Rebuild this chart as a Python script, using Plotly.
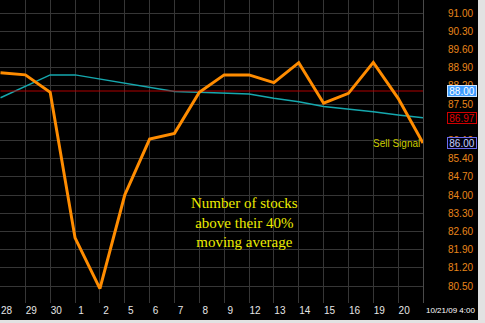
import plotly.graph_objects as go

# ---- data ----
categories = ["28", "29", "30", "1", "2", "5", "6", "7", "8", "9",
              "12", "13", "14", "15", "16", "19", "20", "21"]
stocks_above_ma = [88.70, 88.62, 87.95, 82.35, 80.40, 84.00, 86.15, 86.37, 87.95, 88.62,
                   88.62, 88.32, 89.09, 87.53, 87.91, 89.10, 87.72, 86.00]
moving_avg = [87.74, 88.18, 88.62, 88.62, 88.46, 88.30, 88.14, 87.98, 87.95, 87.92,
              87.88, 87.72, 87.59, 87.40, 87.31, 87.20, 87.08, 86.97]
signal_level = 88.00
x_tick_labels = ["28", "29", "30", "1", "2", "5", "6", "7", "8", "9",
                 "12", "13", "14", "15", "16", "19", "20", ""]
y_tick_values = [80.5, 81.2, 81.9, 82.6, 83.3, 84.0, 84.7, 85.4, 86.1, 86.8,
                 87.5, 88.2, 88.9, 89.6, 90.3, 91.0]
y_tick_labels = ["80.50", "81.20", "81.90", "82.60", "83.30", "84.00", "84.70", "85.40",
                 "86.10", "", "87.50", "88.20", "88.90", "89.60", "90.30", "91.00"]
date_label = "10/21/09 4:00"

xs = list(range(len(categories)))

fig = go.Figure()
fig.add_trace(go.Scatter(x=xs, y=moving_avg, mode="lines",
                         line=dict(color="#15a8ae", width=1.5), showlegend=False))
fig.add_trace(go.Scatter(x=xs, y=[signal_level] * len(xs), mode="lines",
                         line=dict(color="#b00000", width=1), showlegend=False))
fig.add_trace(go.Scatter(x=xs, y=stocks_above_ma, mode="lines",
                         line=dict(color="#ff8c00", width=3), showlegend=False))

font_ui = "Liberation Sans, Arial, sans-serif"

fig.update_layout(
    width=485, height=323,
    margin=dict(l=0, r=62, t=0, b=20),
    paper_bgcolor="#e2e2e2",
    plot_bgcolor="#000000",
    shapes=[dict(type="rect", xref="paper", yref="paper",
                 x0=-0.01, x1=478 / 423, y0=(303 - 320) / 303, y1=1.01,
                 fillcolor="#000000", line=dict(width=0), layer="below")],
    xaxis=dict(range=[-0.02, 17], tickvals=xs, ticktext=x_tick_labels,
               showgrid=True, gridcolor="#363636", gridwidth=1,
               zeroline=False, showline=False, ticks="",
               tickfont=dict(color="#e6e6e6", size=10, family=font_ui),
               ticklabelshift=6),
    yaxis=dict(side="right", range=[79.846, 91.5], tickvals=y_tick_values,
               ticktext=y_tick_labels, showgrid=True, gridcolor="#363636",
               gridwidth=1, zeroline=False, showline=True, linecolor="#4a4a4a",
               linewidth=1, ticks="",
               tickfont=dict(color="#e8861a", size=10, family=font_ui),
               ticklabelstandoff=22),
    annotations=[
        dict(xref="paper", x=1, xanchor="left", xshift=24, yref="y", y=signal_level,
             yanchor="middle", width=28, height=10,
             text="88.00", showarrow=False, bgcolor="#3d9bff", bordercolor="#cfe6ff",
             borderwidth=1, borderpad=0, font=dict(color="#ffffff", size=10, family=font_ui)),
        dict(xref="paper", x=1, xanchor="left", xshift=24, yref="y", y=moving_avg[-1],
             yanchor="middle", width=28, height=10,
             text="86.97", showarrow=False, bgcolor="#000000", bordercolor="#d00000",
             borderwidth=1, borderpad=0, font=dict(color="#e00000", size=10, family=font_ui)),
        dict(xref="paper", x=1, xanchor="left", xshift=24, yref="y", y=stocks_above_ma[-1],
             yanchor="middle", width=28, height=10,
             text="86.00", showarrow=False, bgcolor="#000010", bordercolor="#6a6aee",
             borderwidth=1, borderpad=0, font=dict(color="#c8d0ff", size=10, family=font_ui)),
        dict(xref="x", x=xs[-1], xanchor="right", xshift=-1, yref="y", y=stocks_above_ma[-1],
             yanchor="middle",
             text="Sell Signal", showarrow=False,
             font=dict(color="#cccc00", size=10, family=font_ui)),
        dict(xref="paper", x=245 / 423, xanchor="center", yref="paper", y=(303 - 222) / 303,
             yanchor="middle",
             text="Number of stocks<br>above their 40%<br>moving average",
             showarrow=False, align="center",
             font=dict(color="#ecec00", size=15, family="Liberation Serif, serif")),
        dict(xref="paper", x=1, xanchor="left", xshift=1, yref="paper", y=0,
             yanchor="top", yshift=-1, text=date_label, showarrow=False,
             font=dict(color="#ffffff", size=8, family=font_ui)),
    ],
)

fig.write_html("out.html")
